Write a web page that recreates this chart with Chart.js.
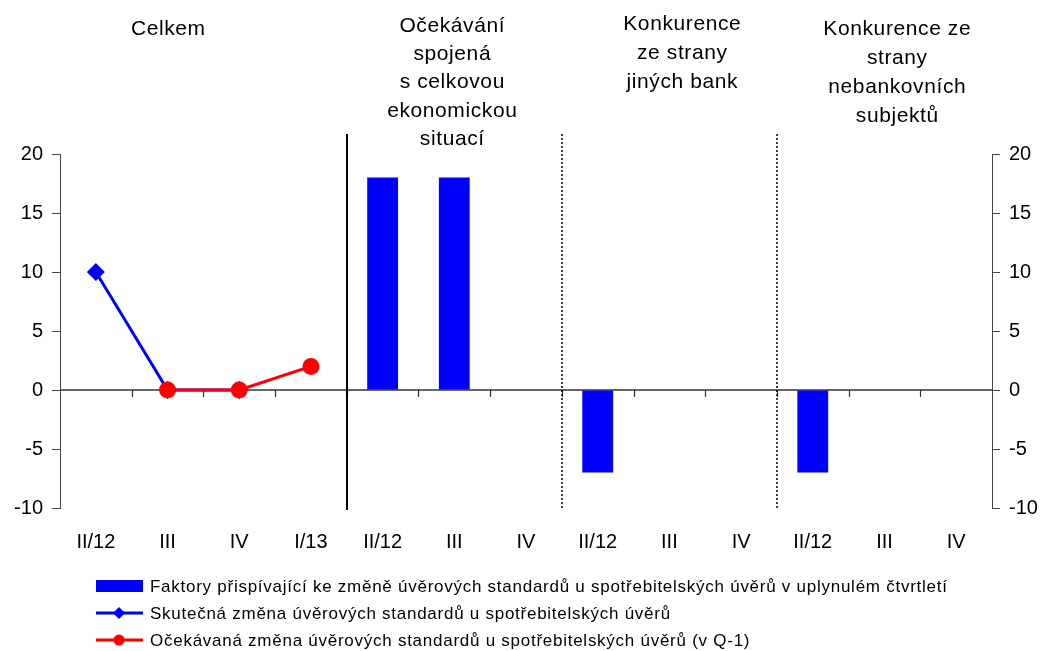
<!DOCTYPE html>
<html><head><meta charset="utf-8">
<script src="https://cdn.jsdelivr.net/npm/chart.js@4/dist/chart.umd.min.js"></script>
<style>html,body{margin:0;padding:0;background:#fff}#wrap{position:relative;width:1043px;height:651px}</style>
</head><body><div id="wrap"><canvas id="c" width="1043" height="651"></canvas></div>
<script>
const categories = ['II/12','III','IV','I/13','II/12','III','IV','II/12','III','IV','II/12','III','IV'];
const factorValues = [null,null,null,null,18,18,0,-7,0,0,-7,0,0];
const actualChange = [10,0,0,null,null,null,null,null,null,null,null,null,null];
const expectedChange = [null,0,0,2,null,null,null,null,null,null,null,null,null];
const yTickValues = [-10,-5,0,5,10,15,20];
const groupTitles = [
  ['Celkem'],
  ['Očekávání','spojená','s celkovou','ekonomickou','situací'],
  ['Konkurence','ze strany','jiných bank'],
  ['Konkurence ze','strany','nebankovních','subjektů']
];
const seriesLabels = [
  'Faktory přispívající ke změně úvěrových standardů u spotřebitelských úvěrů v uplynulém čtvrtletí',
  'Skutečná změna úvěrových standardů u spotřebitelských úvěrů',
  'Očekávaná změna úvěrových standardů u spotřebitelských úvěrů (v Q-1)'
];

const FONT = '"Liberation Sans", Arial, sans-serif';
const titleLayout = [
  {x:168, y:[35]},
  {x:452, y:[32,60,88,117,145]},
  {x:682, y:[30,59,88]},
  {x:897, y:[35,64,93,122]}
];
const separatorAfter = [{i:3, dash:[], w:2}, {i:6, dash:[2,2], w:1.5}, {i:9, dash:[2,2], w:1.5}];

function spacedText(ctx, t, x, y, sp, align) {
  // draw text with letter spacing, aligned manually
  const w = ctx.measureText(t).width + sp * (t.length - 1);
  let sx = align === 'center' ? x - w / 2 : x;
  ctx.textAlign = 'left';
  if ('letterSpacing' in ctx) {
    ctx.letterSpacing = sp + 'px';
    ctx.fillText(t, sx, y);
    ctx.letterSpacing = '0px';
  } else {
    for (const ch of t) { ctx.fillText(ch, sx, y); sx += ctx.measureText(ch).width + sp; }
  }
}

const decor = {
  id:'decor',
  beforeDatasetsDraw(chart){
    const ctx = chart.ctx, xs = chart.scales.x, ys = chart.scales.y;
    const y0 = ys.getPixelForValue(0);
    const bnd = i => (xs.getPixelForValue(i) + xs.getPixelForValue(i+1))/2;
    ctx.save();
    ctx.strokeStyle = '#333'; ctx.lineWidth = 1.5;
    ctx.beginPath(); ctx.moveTo(chart.chartArea.left, y0); ctx.lineTo(chart.chartArea.right, y0); ctx.stroke();
    ctx.lineWidth = 1.2;
    for (let i = 0; i < categories.length - 1; i++) {
      const bx = Math.round(bnd(i)) + 0.5;
      ctx.beginPath(); ctx.moveTo(bx, y0); ctx.lineTo(bx, y0 + 7); ctx.stroke();
    }
    separatorAfter.forEach(s => {
      const bx = Math.round(bnd(s.i));
      ctx.strokeStyle = '#000'; ctx.lineWidth = s.w; ctx.setLineDash(s.dash);
      ctx.beginPath(); ctx.moveTo(bx, 134); ctx.lineTo(bx, 510); ctx.stroke();
    });
    ctx.restore();
  },
  afterDraw(chart){
    const ctx = chart.ctx;
    ctx.save();
    ctx.fillStyle = '#000';
    ctx.textBaseline = 'alphabetic';
    ctx.font = '21px ' + FONT;
    groupTitles.forEach((lines, g) => {
      lines.forEach((t, k) => spacedText(ctx, t, titleLayout[g].x, titleLayout[g].y[k], 0.6, 'center'));
    });
    // legend
    const ds = chart.data.datasets;
    const rows = [592, 619, 646];
    ctx.font = '17px ' + FONT;
    ds.forEach((d, k) => {
      const cy = rows[k] - 6;
      if (d.type === 'bar') {
        ctx.fillStyle = d.backgroundColor;
        ctx.fillRect(96, cy - 6, 47, 12);
      } else {
        ctx.strokeStyle = d.borderColor; ctx.lineWidth = 3;
        ctx.beginPath(); ctx.moveTo(96, cy); ctx.lineTo(143, cy); ctx.stroke();
        ctx.fillStyle = d.borderColor;
        ctx.beginPath();
        if (d.pointStyle === 'rectRot') {
          ctx.moveTo(119, cy-6); ctx.lineTo(125, cy); ctx.lineTo(119, cy+6); ctx.lineTo(113, cy);
        } else {
          ctx.arc(119, cy, 5.5, 0, Math.PI*2);
        }
        ctx.closePath(); ctx.fill();
      }
      ctx.fillStyle = '#000';
      spacedText(ctx, d.label, 150, rows[k], 0.74, 'left');
    });
    ctx.restore();
  }
};

const yAxisBase = (pos, w) => ({
  position: pos, min: -10, max: 20,
  afterBuildTicks: s => { s.ticks = yTickValues.map(v => ({value: v})); },
  afterFit: s => { s.width = w; },
  grid: {drawOnChartArea: false, drawTicks: true, tickLength: 8, tickColor: '#444', lineWidth: 1},
  border: {display: true, color: '#444', width: 1},
  ticks: {color: '#000', font: {family: FONT, size: 20}, padding: 9}
});

new Chart(document.getElementById('c'), {
  data: {
    labels: categories,
    datasets: [
      {type:'bar', label: seriesLabels[0], data: factorValues, backgroundColor:'#0000FF', borderWidth:0,
       barPercentage:0.43, categoryPercentage:1, order:2, yAxisID:'y'},
      {type:'line', label: seriesLabels[1], data: actualChange, borderColor:'#0000FF', backgroundColor:'#0000FF',
       borderWidth:3, pointStyle:'rectRot', pointRadius:9, pointBorderWidth:0, tension:0, order:1, yAxisID:'y'},
      {type:'line', label: seriesLabels[2], data: expectedChange, borderColor:'#FF0000', backgroundColor:'#FF0000',
       borderWidth:3, pointStyle:'circle', pointRadius:8.5, pointBorderWidth:0, tension:0, order:0, yAxisID:'y'}
    ]
  },
  options: {
    responsive:false, animation:false, devicePixelRatio:1,
    events: [],
    layout: {padding: {top:154, left:0, right:0, bottom:0}},
    plugins: {legend:{display:false}, tooltip:{enabled:false}},
    scales: {
      x: {type:'category', offset:true,
          grid:{display:false, drawTicks:false}, border:{display:false},
          afterFit: s => { s.height = 143; },
          ticks:{color:'#000', font:{family:FONT, size:20}, padding:22, maxRotation:0, autoSkip:false}},
      y: yAxisBase('left', 60),
      y2: yAxisBase('right', 51)
    }
  },
  plugins: [decor]
});
</script></body></html>
